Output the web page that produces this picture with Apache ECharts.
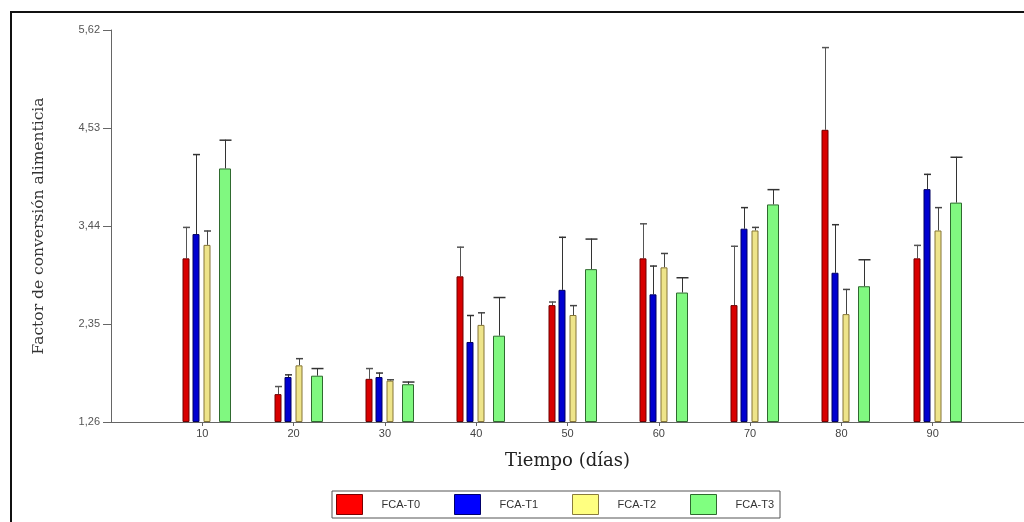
<!DOCTYPE html>
<html>
<head>
<meta charset="utf-8">
<script src="https://cdn.jsdelivr.net/npm/echarts@6/dist/echarts.min.js"></script>
<style>
  html, body { margin: 0; padding: 0; background: #fff; }
  #chart { width: 1024px; height: 522px; }
</style>
</head>
<body>
<div id="chart"></div>
<script>
const days = [10, 20, 30, 40, 50, 60, 70, 80, 90];
const yTicks = [1.26, 2.35, 3.44, 4.53, 5.62];

// mean and mean + error, per treatment
const fcaT0 = [3.08, 1.57, 1.74, 2.88, 2.56, 3.08, 2.56, 4.51, 3.08];
const fcaT0Err = [3.43, 1.66, 1.86, 3.21, 2.60, 3.47, 3.22, 5.43, 3.23];
const fcaT1 = [3.35, 1.76, 1.76, 2.15, 2.73, 2.68, 3.41, 2.92, 3.85];
const fcaT1Err = [4.24, 1.79, 1.81, 2.45, 3.32, 3.00, 3.65, 3.46, 4.02];
const fcaT2 = [3.23, 1.89, 1.72, 2.34, 2.45, 2.98, 3.39, 2.46, 3.39];
const fcaT2Err = [3.39, 1.97, 1.735, 2.48, 2.56, 3.14, 3.43, 2.74, 3.65];
const fcaT3 = [4.08, 1.775, 1.68, 2.22, 2.96, 2.70, 3.68, 2.77, 3.70];
const fcaT3Err = [4.40, 1.86, 1.71, 2.65, 3.30, 2.87, 3.85, 3.07, 4.21];

const names = ['FCA-T0', 'FCA-T1', 'FCA-T2', 'FCA-T3'];
const means = [fcaT0, fcaT1, fcaT2, fcaT3];
const errs = [fcaT0Err, fcaT1Err, fcaT2Err, fcaT3Err];

// legend swatch colours
const swatch = [
  { fill: '#ff0000', border: '#7a0000' },
  { fill: '#0000ff', border: '#00006a' },
  { fill: '#ffff80', border: '#8a7c3c' },
  { fill: '#80ff80', border: '#2f6a2f' }
];

// bars: offset from tick and width in px, colours a bit darker than the swatches
const styles = [
  { off: -16, w: 7, fill: '#d80000', border: '#700000', err: '#555' },
  { off: -6, w: 7, fill: '#0000d0', border: '#000060', err: '#333' },
  { off: 5, w: 7, fill: '#eee48a', border: '#857536', err: '#444' },
  { off: 23, w: 12, fill: '#80f880', border: '#2f6a2f', err: '#333' }
];

const chart = echarts.init(document.getElementById('chart'));

function makeSeries(i) {
  const st = styles[i];
  return {
    name: names[i],
    type: 'custom',
    itemStyle: { color: swatch[i].fill, borderColor: swatch[i].border, borderWidth: 1 },
    data: days.map((d, k) => [d, means[i][k], errs[i][k]]),
    renderItem: function (params, api) {
      const base = api.coord([api.value(0), yTicks[0]]);
      const top = api.coord([api.value(0), api.value(1)]);
      const etop = api.coord([api.value(0), api.value(2)]);
      const cx = Math.round(base[0] + st.off);
      const x0 = cx - st.w / 2;
      const capW = st.w > 8 ? 12 : 7;
      return {
        type: 'group',
        children: [
          {
            type: 'line',
            shape: { x1: cx + 0.5, y1: top[1], x2: cx + 0.5, y2: etop[1] },
            style: { stroke: st.err, lineWidth: 1 }
          },
          {
            type: 'line',
            shape: { x1: cx + 0.5 - capW / 2, y1: etop[1] + 0.5, x2: cx + 0.5 + capW / 2, y2: etop[1] + 0.5 },
            style: { stroke: st.err, lineWidth: 1.5 }
          },
          {
            type: 'rect',
            shape: { x: x0 + 0.5, y: top[1] + 0.5, width: st.w - 1, height: base[1] - top[1] - 1 },
            style: { fill: st.fill, stroke: st.border, lineWidth: 1 }
          }
        ]
      };
    }
  };
}

const option = {
  animation: false,
  backgroundColor: '#fff',
  grid: { left: 111, width: 916, top: 30, bottom: 100, containLabel: false },
  graphic: [
    {
      type: 'rect',
      shape: { x: 11, y: 12, width: 1100, height: 600 },
      style: { fill: 'none', stroke: '#111', lineWidth: 2 },
      silent: true
    }
  ],
  legend: {
    data: names.map((n, i) => ({
      name: n,
      itemStyle: { color: swatch[i].fill, borderColor: swatch[i].border, borderWidth: 1 }
    })),
    icon: 'rect',
    left: 332,
    top: 491,
    itemWidth: 26,
    itemHeight: 20,
    itemGap: 34,
    padding: [3, 6, 3, 4],
    borderColor: '#555',
    borderWidth: 1,
    textStyle: { fontFamily: 'Liberation Sans', fontSize: 11, color: '#333', padding: [0, 0, 0, 14] }
  },
  xAxis: {
    type: 'value',
    min: 0,
    max: 100,
    interval: 10,
    name: 'Tiempo (días)',
    nameLocation: 'middle',
    nameGap: 30,
    nameTextStyle: { fontFamily: 'DejaVu Serif', fontSize: 18, color: '#222' },
    axisLine: { lineStyle: { color: '#666', width: 1 } },
    axisTick: { show: true, length: 4, lineStyle: { color: '#666' }, customValues: days },
    axisLabel: {
      fontFamily: 'Liberation Sans',
      fontSize: 11,
      color: '#444',
      margin: 6,
      customValues: days,
      formatter: (v) => String(v)
    },
    splitLine: { show: false }
  },
  yAxis: {
    type: 'value',
    min: yTicks[0],
    max: yTicks[yTicks.length - 1],
    name: 'Factor de conversión alimenticia',
    nameLocation: 'middle',
    nameGap: 64,
    nameRotate: 90,
    nameTextStyle: { fontFamily: 'DejaVu Serif', fontSize: 15.5, color: '#333' },
    axisLine: { show: true, lineStyle: { color: '#666', width: 1 } },
    axisTick: { show: true, length: 8, lineStyle: { color: '#666' }, customValues: yTicks },
    axisLabel: {
      fontFamily: 'Liberation Sans',
      fontSize: 11,
      color: '#555',
      margin: 11,
      customValues: yTicks,
      formatter: (v) => v.toFixed(2).replace('.', ',')
    },
    splitLine: { show: false }
  },
  series: [0, 1, 2, 3].map(makeSeries)
};

chart.setOption(option);
</script>
</body>
</html>
